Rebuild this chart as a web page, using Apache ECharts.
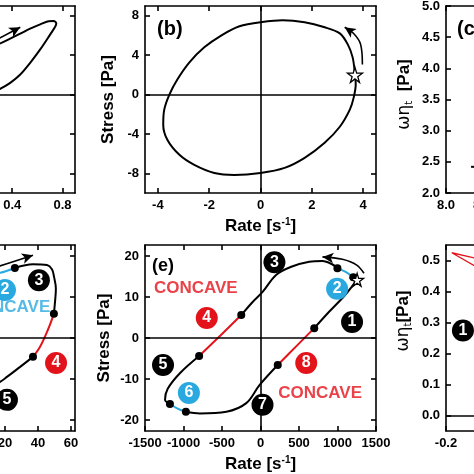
<!DOCTYPE html>
<html><head><meta charset="utf-8">
<script src="https://cdn.jsdelivr.net/npm/echarts@6/dist/echarts.min.js"></script>
<style>html,body{margin:0;padding:0;background:#fff}#c{width:474px;height:474px}</style>
</head><body><div id="c"></div>
<script>
// ---------- data ----------
// panel (a): Stress [Pa] vs Rate
const aLoop = [[0.14,4.3],[0.225,4.8],[0.304,5.2],[0.384,5.68],[0.464,6.19],[0.543,6.7],[0.623,7.14],[0.689,7.45],[0.729,7.48],[0.751,7.24],[0.743,6.91],[0.703,6.12],[0.623,4.59],[0.543,3.23],[0.464,2.04],[0.384,1.19],[0.304,0.58],[0.225,0.1],[0.14,-0.3]];
const aArrow = [[0.30,5.75],[0.464,6.84]];
// panel (b)
const bLoop = [[0,7.35],[0.86,7.55],[1.72,7.35],[2.5,6.84],[3.09,6.22],[3.4,5.1],[3.59,3.78],[3.67,2.35],[3.71,1.02],[3.63,-0.31],[3.48,-1.53],[3.09,-3.27],[2.5,-4.9],[1.72,-6.43],[0.94,-7.45],[0,-7.96],[-1.02,-8.16],[-1.8,-7.96],[-2.58,-7.14],[-3.16,-6.12],[-3.63,-4.59],[-3.79,-3.06],[-3.75,-1.53],[-3.55,0],[-3.24,1.53],[-2.77,3.27],[-2.19,4.8],[-1.52,6.02],[-0.82,6.94],[0,7.35]];
const bArrow = [[3.97,3.06],[3.9,5.1],[3.63,6.2],[3.28,6.84]];
const bStar = [[3.68,2.0]];
// panel (c)
const cPoints = [[8.375,2.42]];
// panel (d)
const dBlue = [[5,15.0],[17,15.9],[26,17.1]];
const dArrow = [[5,16.2],[17,17.6],[37,20.2]];
const dBlack1 = [[26,17.1],[37,18.0],[45.5,17.8],[48.5,16.8],[49.7,15.1],[50.9,12.0],[50.3,8.5],[49.7,5.9]];
const dRed = [[49.7,5.9],[46,1.95],[41.2,-2.2],[37,-4.6]];
const dBlack2 = [[37,-4.6],[29,-7.1],[21.2,-9.5],[17,-10.7],[5,-13.2]];
const dDots = [[26,17.1],[49.7,5.9],[37,-4.6]];
const dBadgesBlack = [[40.6,14.1,'3'],[21.2,-15.1,'5']];
const dBadgesBlue = [[20,11.7,'2']];
const dBadgesRed = [[51,-6.1,'4']];
const dTextBlue = [[47.8,7.6,'CONCAVE']];
// panel (e)
const eBlack1 = [[999,17.0],[930,18.0],[805,18.8],[633,18.6],[400,17.4],[202,15.4],[30,11.3],[-99,8.86],[-250,5.6]];
const eRed1 = [[-250,5.6],[-520,0.6],[-797,-4.4]];
const eBlack2 = [[-797,-4.4],[-1047,-8.6],[-1205,-12.4],[-1240,-15.1],[-1176,-16.1]];
const eBlue1 = [[-1176,-16.1],[-1070,-17.3],[-969,-18.0]];
const eBlack3 = [[-969,-18.0],[-788,-18.4],[-443,-18.0],[-185,-15.9],[-13,-11.5],[224,-6.6]];
const eRed2 = [[224,-6.6],[460,-2.1],[698,2.4]];
const eBlack4 = [[698,2.4],[891,6.4],[1085,10.2],[1193,12.7],[1250,14.2]];
const eBlue2 = [[1250,14.2],[1210,14.8],[1100,16.2],[999,17.0]];
const eArrow = [[1344,15.8],[1250,17.8],[1063,19.2],[805,19.8]];
const eDots = [[999,17.0],[1205,14.8],[-250,5.6],[-797,-4.4],[-1176,-16.1],[-969,-18.0],[224,-6.6],[698,2.4]];
const eStar = [[1255,14.2]];
const eBadgesBlack = [[181,18.5,'3'],[1189,3.9,'1'],[-1266,-6.6,'5'],[26,-16.3,'7']];
const eBadgesBlue = [[995,12.0,'2'],[-930,-13.4,'6']];
const eBadgesRed = [[-698,4.9,'4'],[594,-6.1,'8']];
const eTextRed = [[-840,12.2,'CONCAVE'],[775,-13.4,'CONCAVE']];
// panel (f)
const fRed = [[-0.05,0.508],[-0.17,0.525],[-0.05,0.482]];
const fBadgesBlack = [[-0.112,0.274,'1']];

// tick values
const ticksStressTop = [-8,-4,0,4,8];
const ticksRateA = [-0.8,-0.4,0,0.4,0.8];
const ticksRateB = [-4,-2,0,2,4];
const ticksCx = [8.0,8.5,9.0,9.5,10.0,10.5,11.0];
const ticksCy = [2.0,2.5,3.0,3.5,4.0,4.5,5.0];
const ticksRateD = [-60,-40,-20,0,20,40,60];
const ticksStressBot = [-20,-10,0,10,20];
const ticksRateE = [-1500,-1000,-500,0,500,1000,1500];
const ticksFx = [-0.2,0,0.2,0.4,0.6,0.8,1.0];
const ticksFy = [0.0,0.1,0.2,0.3,0.4,0.5];

// ---------- chart ----------
const FONT = 'Liberation Sans, Arial, sans-serif';
const BLACK = '#000', BLUE = '#2aa9e0', RED = '#e3131b';
const STAR = 'path://M50,0 L61,35 L98,35 L68,57 L79,91 L50,70 L21,91 L32,57 L2,35 L39,35 Z';
const line = {color:BLACK,width:1.6};
const grids = [
  {left:-151, top:6, width:226, height:187},
  {left:145, top:6, width:231, height:187},
  {left:446, top:6, width:231, height:187},
  {left:-131, top:245, width:206, height:186},
  {left:145, top:245, width:231, height:186},
  {left:446, top:245, width:231, height:186}
].map(g => Object.assign({containLabel:false, outerBoundsMode:'none'}, g));

const xAxes = [], yAxes = [];
function addAxes(g, xr, xt, xf, yr, yt, yf, xName, yName, yGap, xGap, yPad) {
  const lab = (cv, f) => ({customValues:cv, formatter:f, fontSize:13, fontWeight:'bold', color:BLACK, fontFamily:FONT, margin:6});
  const tick = cv => ({inside:true, length:5, customValues:cv, lineStyle:line});
  xAxes.push({gridIndex:g, type:'value', min:xr[0], max:xr[1], position:'bottom',
    axisLine:{onZero:false, lineStyle:line}, axisTick:tick(xt), axisLabel:lab(xt,xf), splitLine:{show:false},
    name:xName||'', nameLocation:'middle', nameGap:xGap||24,
    nameTextStyle:{fontSize:17, fontWeight:'bold', color:BLACK, fontFamily:FONT,
      rich:{sup:{fontSize:10, fontWeight:'bold', color:BLACK, fontFamily:FONT, padding:[0,0,9,0]}}}});
  xAxes.push({gridIndex:g, type:'value', min:xr[0], max:xr[1], position:'top',
    axisLine:{onZero:false, lineStyle:line}, axisTick:tick(xt), axisLabel:{show:false}, splitLine:{show:false}});
  yAxes.push({gridIndex:g, type:'value', min:yr[0], max:yr[1], position:'left',
    axisLine:{onZero:false, lineStyle:line}, axisTick:tick(yt), axisLabel:lab(yt,yf), splitLine:{show:false},
    name:yName||'', nameLocation:'middle', nameGap:yGap||28, nameRotate:90,
    nameTextStyle:{fontSize:17, fontWeight:'bold', color:BLACK, fontFamily:FONT, padding:yPad||0,
      rich:{g:{fontSize:17, fontWeight:'normal', color:BLACK, fontFamily:'DejaVu Sans'},
            sub:{fontSize:10, fontWeight:'normal', color:BLACK, fontFamily:'DejaVu Sans', padding:[9,0,0,0]},
            b:{fontSize:17, fontWeight:'bold', color:BLACK, fontFamily:FONT}}}});
  yAxes.push({gridIndex:g, type:'value', min:yr[0], max:yr[1], position:'right',
    axisLine:{onZero:false, lineStyle:line}, axisTick:tick(yt), axisLabel:{show:false}, splitLine:{show:false}});
}
const f1 = v => v.toFixed(1);
const f0 = v => String(v);
addAxes(0,[-0.9,0.9],ticksRateA,f1,[-10,9],ticksStressTop,f0,'','Stress [Pa]');
addAxes(1,[-4.5,4.5],ticksRateB,f0,[-10,9],ticksStressTop,f0,'Rate [s{sup|-1}]','Stress [Pa]',28);
addAxes(2,[8,11.2],ticksCx,f1,[2,5],ticksCy,f1,'','{g|ωη}{sub|t}{b|  [Pa]}',32,0,[0,0,0,10]);
addAxes(3,[-62.5,62.5],ticksRateD,f0,[-22.7,22.7],ticksStressBot,f0,'','Stress [Pa]');
addAxes(4,[-1500,1500],ticksRateE,f0,[-22.7,22.7],ticksStressBot,f0,'Rate [s{sup|-1}]','Stress [Pa]',32,24);
addAxes(5,[-0.2,1.0],ticksFx,f1,[-0.05,0.55],ticksFy,f1,'','{g|ωη}{sub|t}{b|[Pa]}',33,0,[0,0,0,34]);

const series = [];
function ax(g){return {xAxisIndex:2*g, yAxisIndex:2*g};}
function curve(g, data, color, extra){
  series.push(Object.assign({type:'line', data, smooth:0.35, symbol:'none', clip:true,
    lineStyle:{color, width:2}, z:3, animation:false}, ax(g), extra||{}));
}
function arrow(g, data, rot){
  const pts = data.map((p,i)=> i===data.length-1 ? {value:p, symbol:'arrow', symbolSize:[8,11], symbolRotate:rot} : {value:p, symbol:'none'});
  series.push(Object.assign({type:'line', data:pts, smooth:0.35, showSymbol:true, symbol:'none',
    lineStyle:{color:BLACK, width:1.6}, itemStyle:{color:BLACK, opacity:1}, z:4, animation:false}, ax(g)));
}
function zero(g, both){
  const d = [{yAxis:0}]; if (both) d.push({xAxis:0});
  series.push(Object.assign({type:'line', data:[], markLine:{silent:true, symbol:'none', label:{show:false},
    lineStyle:{color:BLACK, type:'solid', width:1.6}, data:d, animation:false}}, ax(g)));
}
function dots(g, data){
  series.push(Object.assign({type:'scatter', data, symbol:'circle', symbolSize:8, itemStyle:{color:BLACK, opacity:1}, z:6, animation:false}, ax(g)));
}
function star(g, data, size){
  series.push(Object.assign({type:'scatter', data, symbol:STAR, symbolSize:size,
    itemStyle:{color:'#fff', borderColor:BLACK, borderWidth:1.3, opacity:1}, z:7, animation:false}, ax(g)));
}
function badges(g, data, color){
  series.push(Object.assign({type:'scatter', data:data.map(d=>({value:[d[0],d[1]], name:d[2]})),
    symbol:'circle', symbolSize:22, itemStyle:{color, opacity:1}, z:8, animation:false, clip:false,
    label:{show:true, position:'inside', formatter:p=>p.name, color:'#fff', fontSize:16, fontWeight:'bold', fontFamily:FONT}}, ax(g)));
}
function texts(g, data, color, pos){
  series.push(Object.assign({type:'scatter', data:data.map(d=>({value:[d[0],d[1]], name:d[2]})),
    symbol:'circle', symbolSize:1, itemStyle:{color:'rgba(0,0,0,0)'}, z:8, animation:false, clip:false,
    label:{show:true, position:pos||'inside', distance:0, formatter:p=>p.name, color, fontSize:17, fontWeight:'bold', fontFamily:FONT}}, ax(g)));
}

// (a)
zero(0,true); curve(0,aLoop,BLACK); arrow(0,aArrow,-62);
// (b)
zero(1,true); curve(1,bLoop,BLACK,{smooth:0.3}); arrow(1,bArrow,56); star(1,bStar,15);
// (c)
series.push(Object.assign({type:'scatter', data:cPoints, symbol:'rect', symbolSize:[4,2], itemStyle:{color:BLACK, opacity:1}, animation:false}, ax(2)));
// (d)
zero(3,true);
curve(3,dBlue,BLUE); arrow(3,dArrow,-72); curve(3,dBlack1,BLACK); curve(3,dRed,RED); curve(3,dBlack2,BLACK);
dots(3,dDots); badges(3,dBadgesBlack,BLACK); badges(3,dBadgesBlue,BLUE); badges(3,dBadgesRed,RED);
texts(3,dTextBlue,BLUE,'left');
// (e)
zero(4,true);
curve(4,eBlack1,BLACK); curve(4,eRed1,RED); curve(4,eBlack2,BLACK); curve(4,eBlue1,BLUE);
curve(4,eBlack3,BLACK); curve(4,eRed2,RED); curve(4,eBlack4,BLACK); curve(4,eBlue2,BLUE);
arrow(4,eArrow,84); dots(4,eDots); star(4,eStar,13);
badges(4,eBadgesBlack,BLACK); badges(4,eBadgesBlue,BLUE); badges(4,eBadgesRed,RED);
texts(4,eTextRed,RED);
// (f)
zero(5,true); curve(5,fRed,RED,{smooth:0,lineStyle:{color:RED,width:1.3}}); badges(5,fBadgesBlack,BLACK);

const chart = echarts.init(document.getElementById('c'), null, {renderer:'canvas'});
chart.setOption({
  backgroundColor:'#fff', animation:false,
  grid:grids, xAxis:xAxes, yAxis:yAxes, series,
  graphic:[
    {type:'text', left:157, top:19, style:{text:'(b)', fontSize:20, fontWeight:'bold', fill:BLACK, fontFamily:FONT}},
    {type:'text', left:457, top:19, style:{text:'(c)', fontSize:20, fontWeight:'bold', fill:BLACK, fontFamily:FONT}},
    {type:'text', left:152, top:257, style:{text:'(e)', fontSize:18, fontWeight:'bold', fill:BLACK, fontFamily:FONT}}
  ]
});
</script>
</body></html>
